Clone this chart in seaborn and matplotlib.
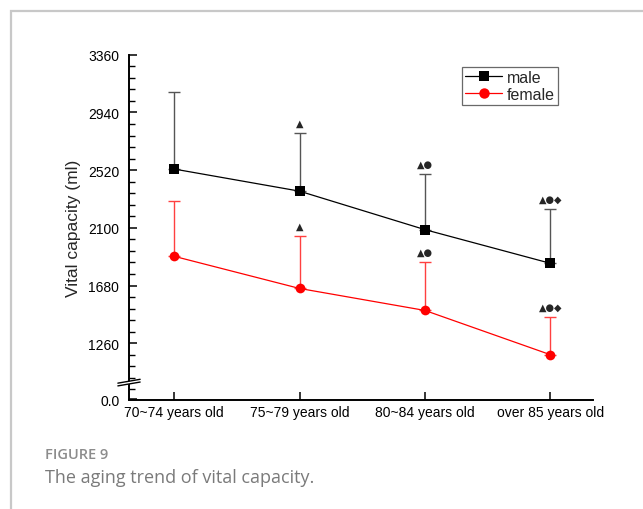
import numpy as np
import pandas as pd
import matplotlib
matplotlib.use("Agg")
import matplotlib.pyplot as plt
from matplotlib.patches import Rectangle, Polygon
from matplotlib.lines import Line2D
from matplotlib.ticker import FixedLocator
import seaborn as sns

# ---- data -------------------------------------------------------------
age_groups = ["70~74 years old", "75~79 years old", "80~84 years old", "over 85 years old"]
male_mean = [2528, 2367, 2087, 1842]
male_sd = [560, 420, 406, 394]
female_mean = [1893, 1659, 1499, 1177]
female_sd = [404, 381, 353, 271]
male_marks = ["", "▲", "▲●", "▲●◆"]
female_marks = ["", "▲", "▲●", "▲●◆"]
y_ticks = [1260, 1680, 2100, 2520, 2940, 3360]

sns.set_theme(style="white")
plt.rcParams["font.family"] = ["Liberation Sans", "DejaVu Sans"]

fig = plt.figure(figsize=(6.43, 5.10), dpi=100)
ax = fig.add_axes([129 / 643, 1 - 400.5 / 510, 464 / 643, 344.8 / 510])

x = np.arange(len(age_groups))
df = pd.DataFrame({
    "age": np.concatenate([x, x]),
    "vc": male_mean + female_mean,
    "sex": ["male"] * 4 + ["female"] * 4,
})

palette = {"male": "black", "female": "#ff0000"}
sns.lineplot(data=df, x="age", y="vc", hue="sex", style="sex",
             markers={"male": "s", "female": "o"}, dashes=False,
             palette=palette, markersize=7, linewidth=0.9,
             markeredgewidth=0, legend=False, ax=ax, zorder=3)

# one-sided (upper) standard deviation bars
ax.errorbar(x, male_mean, yerr=[np.zeros(4), male_sd], fmt="none",
            ecolor="#555555", elinewidth=1.0, capsize=4, capthick=1.0, zorder=2)
ax.errorbar(x, female_mean, yerr=[np.zeros(4), female_sd], fmt="none",
            ecolor="#ff4040", elinewidth=1.0, capsize=4, capthick=1.0, zorder=2)

# significance symbols above bars
for xi, m, s, t in zip(x, male_mean, male_sd, male_marks):
    if t:
        ax.annotate(t, (xi, m + s), xytext=(0, 4), textcoords="offset points",
                    ha="center", va="bottom", fontsize=7, family="DejaVu Sans")
for xi, m, s, t in zip(x, female_mean, female_sd, female_marks):
    if t:
        ax.annotate(t, (xi, m + s), xytext=(0, 4), textcoords="offset points",
                    ha="center", va="bottom", fontsize=7, family="DejaVu Sans")

# axes limits and ticks
ybottom = 851
ax.set_xlim(-0.36, 3.34)
ax.set_ylim(ybottom, 3360)
ax.set_xticks(x)
ax.set_xticklabels(age_groups, fontsize=10)
ax.set_yticks([ybottom] + y_ticks)
ax.set_yticklabels(["0.0"] + [str(v) for v in y_ticks], fontsize=10)
minor = [v for v in np.arange(3360, 1000, -84) if v not in y_ticks] + [924]
ax.yaxis.set_minor_locator(FixedLocator(minor))
ax.tick_params(axis="both", which="major", direction="in", length=6, width=1.1,
               color="black", labelcolor="black", pad=4, bottom=True, left=True)
ax.tick_params(axis="y", which="minor", direction="in", length=4, width=1.0,
               color="black", left=True)
ax.tick_params(axis="y", which="major", pad=7)
ax.set_xlabel("")
ax.set_ylabel("Vital capacity (ml)", fontsize=12.5, labelpad=5)

for side in ["top", "right"]:
    ax.spines[side].set_visible(False)
for side in ["left", "bottom"]:
    ax.spines[side].set_color("black")
    ax.spines[side].set_linewidth(1.4)

# axis break marks
yb = 966
trans = ax.get_yaxis_transform()
ax.add_patch(Polygon([(-0.02, yb - 14), (0.02, yb + 8), (0.02, yb + 28), (-0.02, yb + 6)],
                     closed=True, transform=trans, facecolor="white",
                     edgecolor="none", clip_on=False, zorder=5))
for dy in (0, 20):
    ax.add_line(Line2D([-0.024, 0.024], [yb - 16 + dy, yb + 12 + dy], transform=trans,
                       color="black", lw=1.0, clip_on=False, zorder=6))

# legend
handles = [
    Line2D([], [], color="black", lw=0.9, marker="s", markersize=7, markeredgewidth=0),
    Line2D([], [], color="#ff0000", lw=0.9, marker="o", markersize=7.5, markeredgewidth=0),
]
leg = ax.legend(handles, ["male", "female"], loc="upper left",
                bbox_to_anchor=(0.718, 0.965), frameon=True, fancybox=False,
                fontsize=11.5, handlelength=2.3, handletextpad=0.3,
                borderpad=0.2, labelspacing=0.1, borderaxespad=0)
leg.get_frame().set_edgecolor("#444444")
leg.get_frame().set_linewidth(0.9)

# outer frame and caption
fig.add_artist(Rectangle((11 / 643, -0.1), 1.2, 1 - 12 / 510 + 0.1,
                         transform=fig.transFigure, fill=False,
                         edgecolor="#c8c8c8", lw=1.6))
fig.text(45 / 643, 1 - 455 / 510, "FIGURE 9", fontsize=10.5, color="#8c8c8c",
         fontweight="semibold", family="Open Sans", va="center", ha="left")
fig.text(45 / 643, 1 - 478 / 510, "The aging trend of vital capacity.", fontsize=13,
         color="#7a7a7a", family="Open Sans", va="center", ha="left")

fig.savefig("out.png", dpi=100)
